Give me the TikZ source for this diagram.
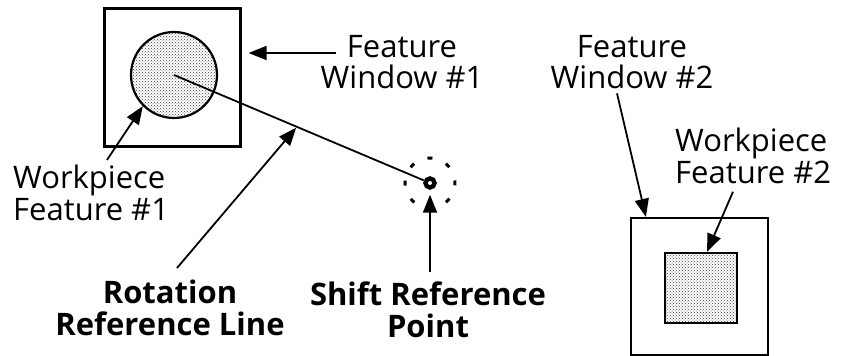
\documentclass[tikz,border=0pt]{standalone}
\usepackage{fontspec}
\setmainfont{Open Sans}
\usetikzlibrary{arrows.meta,patterns,calc}
\begin{document}
\begin{tikzpicture}[x=1pt, y=1pt,
  lbl/.style={font=\fontsize{31}{31.5}\selectfont, inner sep=0pt},
  boldlbl/.style={lbl, font=\fontsize{31}{31.5}\selectfont\bfseries},
  winbox/.style={draw, line width=2.2pt, minimum width=136pt, minimum height=138pt, inner sep=0pt},
  stipple/.style={draw, line width=2.2pt, pattern=crosshatch dots, pattern color=black!75, inner sep=0pt},
  arr/.style={line width=1.8pt, -{Triangle[length=18pt, width=14pt]}}]
\useasboundingbox (0,0) rectangle (852,356);
% windows and workpiece features
\node[winbox] (win1) at (172.5,278.5) {};
\node[stipple, circle, minimum size=86pt] (feat1) at (174,281) {};
\node[winbox, minimum width=137pt, minimum height=137pt] (win2) at (699.5,69.5) {};
\node[stipple, rectangle, minimum width=72pt, minimum height=70pt] (feat2) at (701,68) {};
% shift reference point
\node[circle, draw, line width=4.4pt, minimum size=9pt, inner sep=0pt] (shpt) at (430,173) {};
\draw[line width=3pt, dash pattern=on 5pt off 14.63pt, dash phase=2.5pt] (shpt.center) circle[radius=25];
\draw[line width=1.8pt] (feat1.center) -- (shpt);
\coordinate (rotpt) at ($(feat1.center)!0.48!(shpt.center)$);
% labels
\node[lbl, align=center, anchor=north] (lblwin1) at (402,321) {Feature\\Window \#1};
\node[lbl, align=center, anchor=north] (lblwin2) at (632,321) {Feature\\Window \#2};
\node[lbl, align=left, anchor=north west] (lblfeat1) at (13,191) {Workpiece\\Feature \#1};
\node[lbl, align=left, anchor=north west] (lblfeat2) at (675,228) {Workpiece\\Feature \#2};
\node[boldlbl, align=center, anchor=north] (lblrot) at (170,76) {Rotation\\Reference Line};
\node[boldlbl, align=center, anchor=north] (lblshift) at (428,74) {Shift Reference\\Point};
% arrows
\draw[arr] ([shift={(15,-18)}]lblwin1.north west) coordinate (t1) -- ([xshift=7pt]win1.east |- t1);
\draw[arr] ([shift={(94,5)}]lblfeat1.north west) -- (feat1.225);
\draw[arr, shorten >=1pt] ([shift={(7,12)}]lblrot.north) -- (rotpt);
\draw[arr] (shpt |- lblshift.north) ++(0,10) -- ([yshift=-5pt]shpt.south);
\draw[arr] ([shift={(-15,-4)}]lblwin2.south) -- ([xshift=16pt]win2.north west);
\draw[arr] ([shift={(58,-8)}]lblfeat2.south west) -- ([xshift=6pt]feat2.north);
\end{tikzpicture}
\end{document}
